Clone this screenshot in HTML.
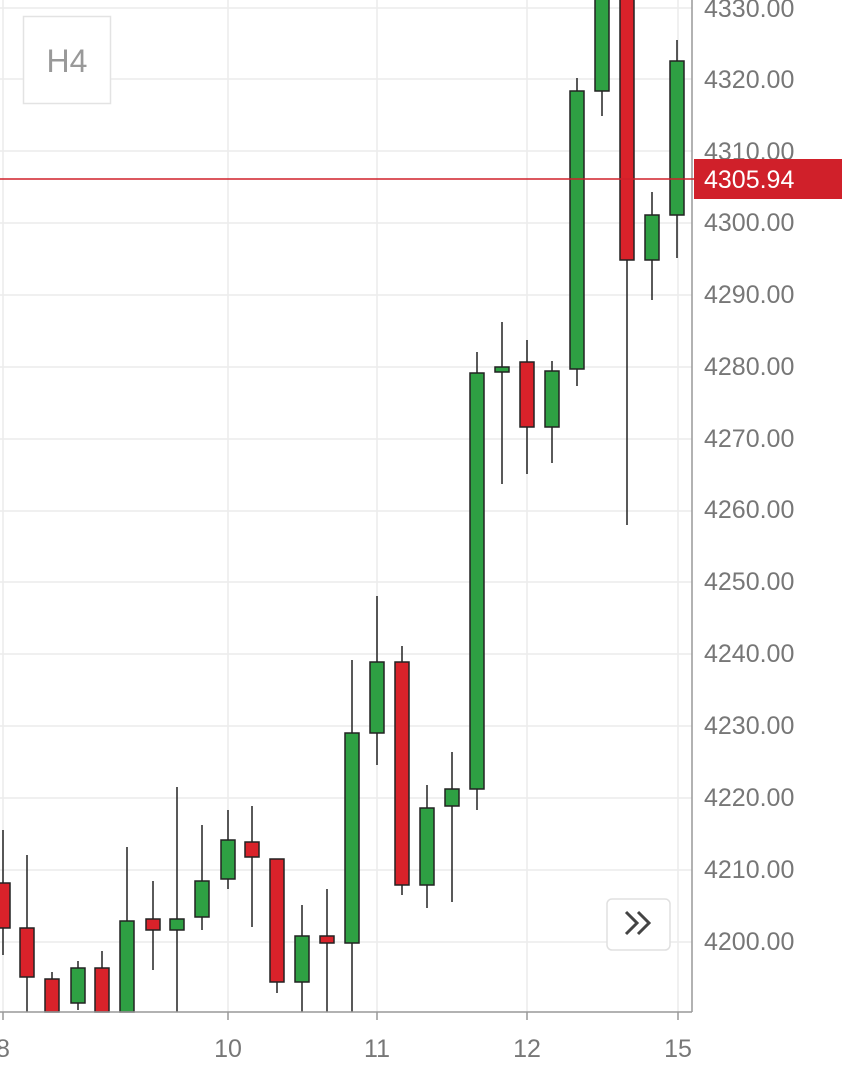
<!DOCTYPE html>
<html><head><meta charset="utf-8"><style>
html,body{margin:0;padding:0;background:#fff;}
body{width:842px;height:1080px;overflow:hidden;position:relative;font-family:"Liberation Sans",sans-serif;}
</style></head><body>
<svg width="842" height="1080" viewBox="0 0 842 1080" xmlns="http://www.w3.org/2000/svg" style="position:absolute;left:0;top:0">
<g stroke="#ececec" stroke-width="1.5">
<line x1="0" y1="8" x2="692" y2="8"/><line x1="0" y1="79" x2="692" y2="79"/><line x1="0" y1="151" x2="692" y2="151"/><line x1="0" y1="223" x2="692" y2="223"/><line x1="0" y1="295" x2="692" y2="295"/><line x1="0" y1="367" x2="692" y2="367"/><line x1="0" y1="439" x2="692" y2="439"/><line x1="0" y1="511" x2="692" y2="511"/><line x1="0" y1="582" x2="692" y2="582"/><line x1="0" y1="654" x2="692" y2="654"/><line x1="0" y1="726" x2="692" y2="726"/><line x1="0" y1="798" x2="692" y2="798"/><line x1="0" y1="870" x2="692" y2="870"/><line x1="0" y1="942" x2="692" y2="942"/>
<line x1="3" y1="0" x2="3" y2="1012"/><line x1="228" y1="0" x2="228" y2="1012"/><line x1="377" y1="0" x2="377" y2="1012"/><line x1="527" y1="0" x2="527" y2="1012"/><line x1="678" y1="0" x2="678" y2="1012"/>
</g>
<g stroke="#222" stroke-width="1.5">
<line x1="3" y1="830" x2="3" y2="955"/><rect x="-4" y="883" width="14" height="45" fill="#d9222a"/>
<line x1="27" y1="855" x2="27" y2="1012"/><rect x="20" y="928" width="14" height="49" fill="#d9222a"/>
<line x1="52" y1="972" x2="52" y2="1012"/><rect x="45" y="979" width="14" height="33" fill="#d9222a"/>
<line x1="78" y1="961" x2="78" y2="1010"/><rect x="71" y="968" width="14" height="35" fill="#2ea043"/>
<line x1="102" y1="951" x2="102" y2="1012"/><rect x="95" y="968" width="14" height="44" fill="#d9222a"/>
<line x1="127" y1="847" x2="127" y2="1012"/><rect x="120" y="921" width="14" height="91" fill="#2ea043"/>
<line x1="153" y1="881" x2="153" y2="970"/><rect x="146" y="919" width="14" height="11" fill="#d9222a"/>
<line x1="177" y1="787" x2="177" y2="1012"/><rect x="170" y="919" width="14" height="11" fill="#2ea043"/>
<line x1="202" y1="825" x2="202" y2="930"/><rect x="195" y="881" width="14" height="36" fill="#2ea043"/>
<line x1="228" y1="810" x2="228" y2="889"/><rect x="221" y="840" width="14" height="39" fill="#2ea043"/>
<line x1="252" y1="806" x2="252" y2="927"/><rect x="245" y="842" width="14" height="15" fill="#d9222a"/>
<line x1="277" y1="859" x2="277" y2="993"/><rect x="270" y="859" width="14" height="123" fill="#d9222a"/>
<line x1="302" y1="905" x2="302" y2="1012"/><rect x="295" y="936" width="14" height="46" fill="#2ea043"/>
<line x1="327" y1="889" x2="327" y2="1012"/><rect x="320" y="936" width="14" height="7" fill="#d9222a"/>
<line x1="352" y1="660" x2="352" y2="1012"/><rect x="345" y="733" width="14" height="210" fill="#2ea043"/>
<line x1="377" y1="596" x2="377" y2="765"/><rect x="370" y="662" width="14" height="71" fill="#2ea043"/>
<line x1="402" y1="646" x2="402" y2="895"/><rect x="395" y="662" width="14" height="223" fill="#d9222a"/>
<line x1="427" y1="785" x2="427" y2="908"/><rect x="420" y="808" width="14" height="77" fill="#2ea043"/>
<line x1="452" y1="752" x2="452" y2="902"/><rect x="445" y="789" width="14" height="17" fill="#2ea043"/>
<line x1="477" y1="352" x2="477" y2="810"/><rect x="470" y="373" width="14" height="416" fill="#2ea043"/>
<line x1="502" y1="322" x2="502" y2="484"/><rect x="495" y="367" width="14" height="5" fill="#2ea043"/>
<line x1="527" y1="340" x2="527" y2="474"/><rect x="520" y="362" width="14" height="65" fill="#d9222a"/>
<line x1="552" y1="361" x2="552" y2="463"/><rect x="545" y="371" width="14" height="56" fill="#2ea043"/>
<line x1="577" y1="78" x2="577" y2="386"/><rect x="570" y="91" width="14" height="278" fill="#2ea043"/>
<line x1="602" y1="0" x2="602" y2="116"/><rect x="595" y="-5" width="14" height="96" fill="#2ea043"/>
<line x1="627" y1="0" x2="627" y2="525"/><rect x="620" y="-5" width="14" height="265" fill="#d9222a"/>
<line x1="652" y1="192" x2="652" y2="300"/><rect x="645" y="215" width="14" height="45" fill="#2ea043"/>
<line x1="677" y1="40" x2="677" y2="258"/><rect x="670" y="61" width="14" height="154" fill="#2ea043"/>
</g>
<line x1="692" y1="0" x2="692" y2="1012" stroke="#999" stroke-width="1.5"/>
<line x1="0" y1="1012" x2="692" y2="1012" stroke="#999" stroke-width="1.5"/>
<g stroke="#999" stroke-width="1.5">
<line x1="3" y1="1012" x2="3" y2="1020"/><line x1="228" y1="1012" x2="228" y2="1020"/><line x1="377" y1="1012" x2="377" y2="1020"/><line x1="527" y1="1012" x2="527" y2="1020"/><line x1="678" y1="1012" x2="678" y2="1020"/>
</g>
<g font-family="Liberation Sans, sans-serif" font-size="25" fill="#777">
<text x="704" y="17">4330.00</text><text x="704" y="88">4320.00</text><text x="704" y="160">4310.00</text><text x="704" y="231">4300.00</text><text x="704" y="303">4290.00</text><text x="704" y="375">4280.00</text><text x="704" y="447">4270.00</text><text x="704" y="518">4260.00</text><text x="704" y="590">4250.00</text><text x="704" y="662">4240.00</text><text x="704" y="734">4230.00</text><text x="704" y="806">4220.00</text><text x="704" y="878">4210.00</text><text x="704" y="950">4200.00</text>
<text x="3" y="1057" text-anchor="middle">8</text><text x="228" y="1057" text-anchor="middle">10</text><text x="377" y="1057" text-anchor="middle">11</text><text x="527" y="1057" text-anchor="middle">12</text><text x="678" y="1057" text-anchor="middle">15</text>
</g>
<line x1="0" y1="179" x2="694" y2="179" stroke="#d0202a" stroke-width="1.5"/>
<rect x="694" y="159" width="148" height="40" fill="#d0202a"/>
<text x="704" y="188" font-family="Liberation Sans, sans-serif" font-size="25" fill="#fff">4305.94</text>
<rect x="23.5" y="16.5" width="87" height="87" fill="#fff" stroke="#e3e3e3" stroke-width="1.5"/>
<text x="67" y="72" text-anchor="middle" font-family="Liberation Sans, sans-serif" font-size="32" fill="#999">H4</text>
<rect x="607" y="899" width="63" height="51" rx="5" fill="#fff" stroke="#e0e0e0" stroke-width="1.5"/>
<path d="M626 912 L637 923 L626 934 M638 912 L649 923 L638 934" stroke="#444" stroke-width="3" fill="none"/>
</svg>
</body></html>
